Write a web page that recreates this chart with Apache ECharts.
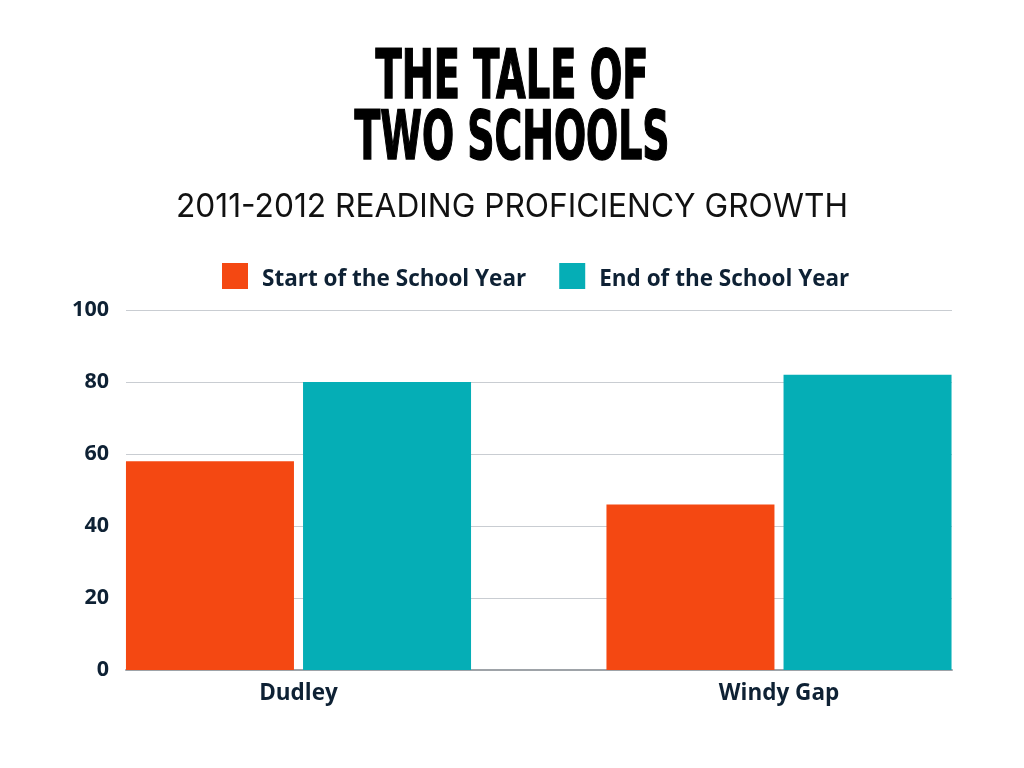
<!DOCTYPE html>
<html>
<head>
<meta charset="utf-8">
<script src="https://cdn.jsdelivr.net/npm/echarts@6/dist/echarts.min.js"></script>
<style>
html,body{margin:0;padding:0;background:#fff;}
#chart{width:1024px;height:768px;}
</style>
</head>
<body>
<div id="chart"></div>
<script>
// ---- data ----
var schools = ['Dudley', 'Windy Gap'];
var seriesNames = ['Start of the School Year', 'End of the School Year'];
var startValues = [58, 46];
var endValues = [80, 82];
var yTicks = [0, 20, 40, 60, 80, 100];
var titleLines = ['THE TALE OF', 'TWO SCHOOLS'];
var subtitle = '2011-2012 READING PROFICIENCY GROWTH';

// ---- styles ----
var ORANGE = '#F44812';
var TEAL = '#05AEB6';
var NAVY = '#0E2134';
var TITLE_FONT = '"DejaVu Sans Condensed", "DejaVu Sans", sans-serif';
var BODY_FONT = '"Open Sans", Inter, sans-serif';
var SUB_FONT = 'Inter, "Open Sans", sans-serif';

var mctx = document.createElement('canvas').getContext('2d');
function fitScale(text, font, target) {
  mctx.font = font;
  return target / mctx.measureText(text).width;
}

var t1Font = 'bold 68px ' + TITLE_FONT;
var subFont = '400 33px ' + SUB_FONT;

var chart = echarts.init(document.getElementById('chart'));
chart.setOption({
  backgroundColor: '#ffffff',
  animation: false,
  color: [ORANGE, TEAL],
  graphic: [
    {
      type: 'text', x: 512, y: 80,
      scaleX: fitScale(titleLines[0], t1Font, 273),
      style: { text: titleLines[0], font: t1Font, fill: '#000', stroke: '#000', lineWidth: 1.5, align: 'center', verticalAlign: 'middle' }
    },
    {
      type: 'text', x: 512, y: 141,
      scaleX: fitScale(titleLines[1], t1Font, 315),
      style: { text: titleLines[1], font: t1Font, fill: '#000', stroke: '#000', lineWidth: 1.5, align: 'center', verticalAlign: 'middle' }
    },
    {
      type: 'text', x: 512, y: 207,
      scaleX: fitScale(subtitle, subFont, 672),
      style: { text: subtitle, font: subFont, fill: '#111', align: 'center', verticalAlign: 'middle' }
    }
  ],
  legend: {
    top: 263,
    left: 222,
    padding: 0,
    icon: 'rect',
    itemWidth: 26,
    itemHeight: 26,
    itemGap: 33,
    data: seriesNames,
    formatter: function (name) { return '{t|' + name + '}'; },
    textStyle: {
      fontFamily: BODY_FONT, fontWeight: 'bold', fontSize: 22.5, color: NAVY, padding: [0, 0, 0, 9],
      rich: { t: { fontFamily: BODY_FONT, fontWeight: 'bold', fontSize: 22.5, color: NAVY, padding: [7, 0, 0, 0] } }
    }
  },
  grid: [
    { left: 126, right: 72, top: 310, bottom: 98 },
    { left: 298.5, right: 245, top: 310, bottom: 98 }
  ],
  xAxis: [
    {
      gridIndex: 0, type: 'category', data: schools,
      axisLine: { show: true, lineStyle: { color: '#9ea3a8', width: 2 } },
      axisTick: { show: false }, axisLabel: { show: false }, splitLine: { show: false }
    },
    {
      gridIndex: 1, type: 'category', data: schools, boundaryGap: false,
      axisLine: { show: false }, axisTick: { show: false },
      axisLabel: { fontFamily: BODY_FONT, fontWeight: 'bold', fontSize: 22.5, color: NAVY, margin: 12 }
    }
  ],
  yAxis: [
    {
      gridIndex: 0, type: 'value', min: yTicks[0], max: yTicks[yTicks.length - 1], interval: 20,
      axisLine: { show: false }, axisTick: { show: false },
      axisLabel: { fontFamily: BODY_FONT, fontWeight: 'bold', fontSize: 21.5, color: NAVY, margin: 17 },
      splitLine: { lineStyle: { color: '#c9cdd2', width: 1 } }
    },
    {
      gridIndex: 1, type: 'value', min: yTicks[0], max: yTicks[yTicks.length - 1],
      show: false, splitLine: { show: false }
    }
  ],
  series: [
    {
      name: seriesNames[0], type: 'bar', xAxisIndex: 1, yAxisIndex: 1,
      data: startValues, barWidth: 168, barGap: '5.4%',
      itemStyle: { color: ORANGE }
    },
    {
      name: seriesNames[1], type: 'bar', xAxisIndex: 1, yAxisIndex: 1,
      data: endValues, barWidth: 168, barGap: '5.4%',
      itemStyle: { color: TEAL }
    }
  ]
});
</script>
</body>
</html>
